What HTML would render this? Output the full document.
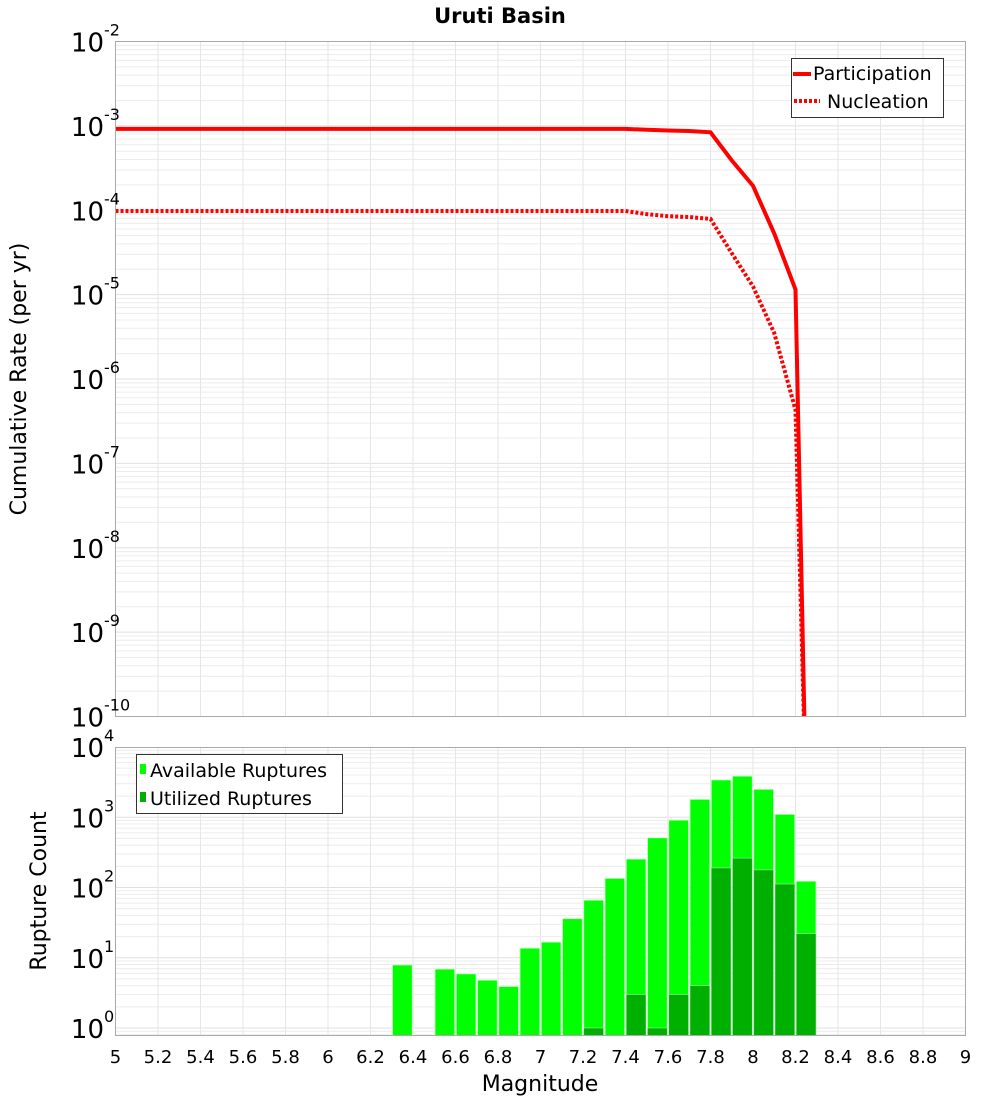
<!DOCTYPE html>
<html><head><meta charset="utf-8"><style>
body{margin:0;background:#fff;}
svg{display:block;font-family:"DejaVu Sans","Liberation Sans",sans-serif;}
</style></head><body>
<svg id="chart" width="1000" height="1100" viewBox="0 0 1000 1100">
<text x="500" y="23" text-anchor="middle" font-size="21" font-weight="bold">Uruti Basin</text>
<g id="topG"></g>
<g id="botG"></g>
<text transform="translate(26,379) rotate(-90)" text-anchor="middle" font-size="22">Cumulative Rate (per yr)</text>
<text transform="translate(46,891) rotate(-90)" text-anchor="middle" font-size="22">Rupture Count</text>
<text x="540" y="1091" text-anchor="middle" font-size="22">Magnitude</text>
<g>
<rect x="791.5" y="58.5" width="152" height="59" fill="#fff" stroke="#333"/>
<line x1="793" y1="74" x2="811" y2="74" stroke="#f00" stroke-width="4"/>
<text x="813" y="80" font-size="19">Participation</text>
<line x1="794" y1="101" x2="820" y2="101" stroke="#f00" stroke-width="4" stroke-dasharray="3,2"/>
<text x="827" y="108" font-size="19">Nucleation</text>
</g>
<g>
<rect x="136.5" y="754.5" width="206" height="59" fill="#fff" stroke="#333"/>
<rect x="140" y="764" width="6" height="10" fill="#00ff00"/>
<text x="150" y="777" font-size="19">Available Ruptures</text>
<rect x="140" y="792" width="6" height="10" fill="#00b000"/>
<text x="150" y="805" font-size="19">Utilized Ruptures</text>
</g>
</svg>
<script>
const xTicks=[5,5.2,5.4,5.6,5.8,6,6.2,6.4,6.6,6.8,7,7.2,7.4,7.6,7.8,8,8.2,8.4,8.6,8.8,9];
const rateMags=[5,5.5,6,6.5,7,7.4,7.5,7.6,7.7,7.8,7.9,8.0,8.1,8.2,8.25];
const participation=[9.2e-4,9.2e-4,9.2e-4,9.2e-4,9.2e-4,9.2e-4,9.0e-4,8.8e-4,8.7e-4,8.4e-4,3.9e-4,1.95e-4,5.3e-5,1.15e-5,1e-11];
const nucleation=[9.8e-5,9.8e-5,9.8e-5,9.8e-5,9.8e-5,9.8e-5,9.0e-5,8.5e-5,8.3e-5,7.9e-5,3.1e-5,1.25e-5,3.5e-6,4.3e-7,1e-11];
const barMags=[6.35,6.45,6.55,6.65,6.75,6.85,6.95,7.05,7.15,7.25,7.35,7.45,7.55,7.65,7.75,7.85,7.95,8.05,8.15,8.25];
const available=[7.9,0,6.9,5.9,4.8,3.9,13.7,16.7,36,66,135,254,510,910,1800,3400,3850,2500,1100,123];
const utilized=[0,0,0,0,0,0,0,0,0,1,0,3,1,3,4,190,262,178,112,22];
const rateExps=[-2,-3,-4,-5,-6,-7,-8,-9,-10];
const countExps=[4,3,2,1,0];

const NS="http://www.w3.org/2000/svg";
const L=115.5,R=965.5;
const x=m=>L+(m-5)/4*(R-L);
const T1=41.5,B1=716.5;
const yR=v=>T1+(-2-Math.log10(v))*(B1-T1)/8;
const T2=747.5,B2=1035.5,dec2=70.25,zero2=1028;
const yC=v=>zero2-Math.log10(v)*dec2;
function mk(p,tag,a){const e=document.createElementNS(NS,tag);for(const k in a)e.setAttribute(k,a[k]);p.appendChild(e);return e;}
const svgEl=document.getElementById('chart');
const topG=document.getElementById('topG'),botG=document.getElementById('botG');

function grid(g,T,B,yf,eLo,eHi){
  for(let e=eLo;e<eHi;e++)for(let k=1;k<10;k++){const yy=yf(k*Math.pow(10,e));if(yy<T||yy>B)continue;
    const l=mk(g,'line',{x1:L,x2:R,y1:yy,y2:yy,stroke:k==1?'#e0e0e0':'#ececec','stroke-width':1});
    
    }
  xTicks.forEach(t=>{const l=mk(g,'line',{x1:x(t),x2:x(t),y1:T,y2:B,stroke:'#e6e6e6'});
    
    });
}
grid(topG,T1,B1,yR,-10,-2);
grid(botG,T2,B2,yC,-1,4);

const defs=mk(svgEl,'defs',{});
const cp=mk(defs,'clipPath',{id:'c1'});mk(cp,'rect',{x:L,y:T1,width:R-L,height:B1-T1});
function line(vals,dash,name){
  const pts=rateMags.map((m,i)=>x(m)+','+yR(vals[i])).join(' ');
  const a={points:pts,fill:'none',stroke:'#f00','stroke-width':4,'clip-path':'url(#c1)'};
  if(dash)a['stroke-dasharray']='3,2';
  const p=mk(topG,'polyline',a);
  
  
}
line(participation,false,'participation-line');
line(nucleation,true,'nucleation-line');

const bw=(x(5.1)-x(5))-1.5;
barMags.forEach((m,i)=>{
  if(available[i]>0){const yy=yC(available[i]);const r=mk(botG,'rect',{x:x(m)-bw/2,y:yy,width:bw,height:B2-yy,fill:'#00ff00',stroke:'#c8ffc8','stroke-width':0.8});
    
    }
  if(utilized[i]>0){const yy=yC(utilized[i]);const r=mk(botG,'rect',{x:x(m)-bw/2,y:yy,width:bw,height:B2-yy,fill:'#00b000',stroke:'#b0e0b0','stroke-width':0.6});
    
    }
});

[[T1,B1],[T2,B2]].forEach(([T,B])=>{const r=mk(svgEl,'rect',{x:L,y:T,width:R-L,height:B-T,fill:'none',stroke:'#aaa'});
  
  });

function ylab(exp,yy){
  const t=mk(svgEl,'text',{x:104,y:yy+10,'text-anchor':'end','font-size':26});
  t.textContent='10';
  
  
  const s=mk(svgEl,'text',{x:104,y:yy-6,'text-anchor':'start','font-size':16});
  s.textContent=String(exp);
  
  
}
rateExps.forEach(e=>ylab(e,yR(Math.pow(10,e))));
countExps.forEach(e=>ylab(e,yC(Math.pow(10,e))));
xTicks.forEach(t=>{const tx=mk(svgEl,'text',{x:x(t),y:1063,'text-anchor':'middle','font-size':18});
  tx.textContent=String(t);
  
  });
</script>
</body></html>
